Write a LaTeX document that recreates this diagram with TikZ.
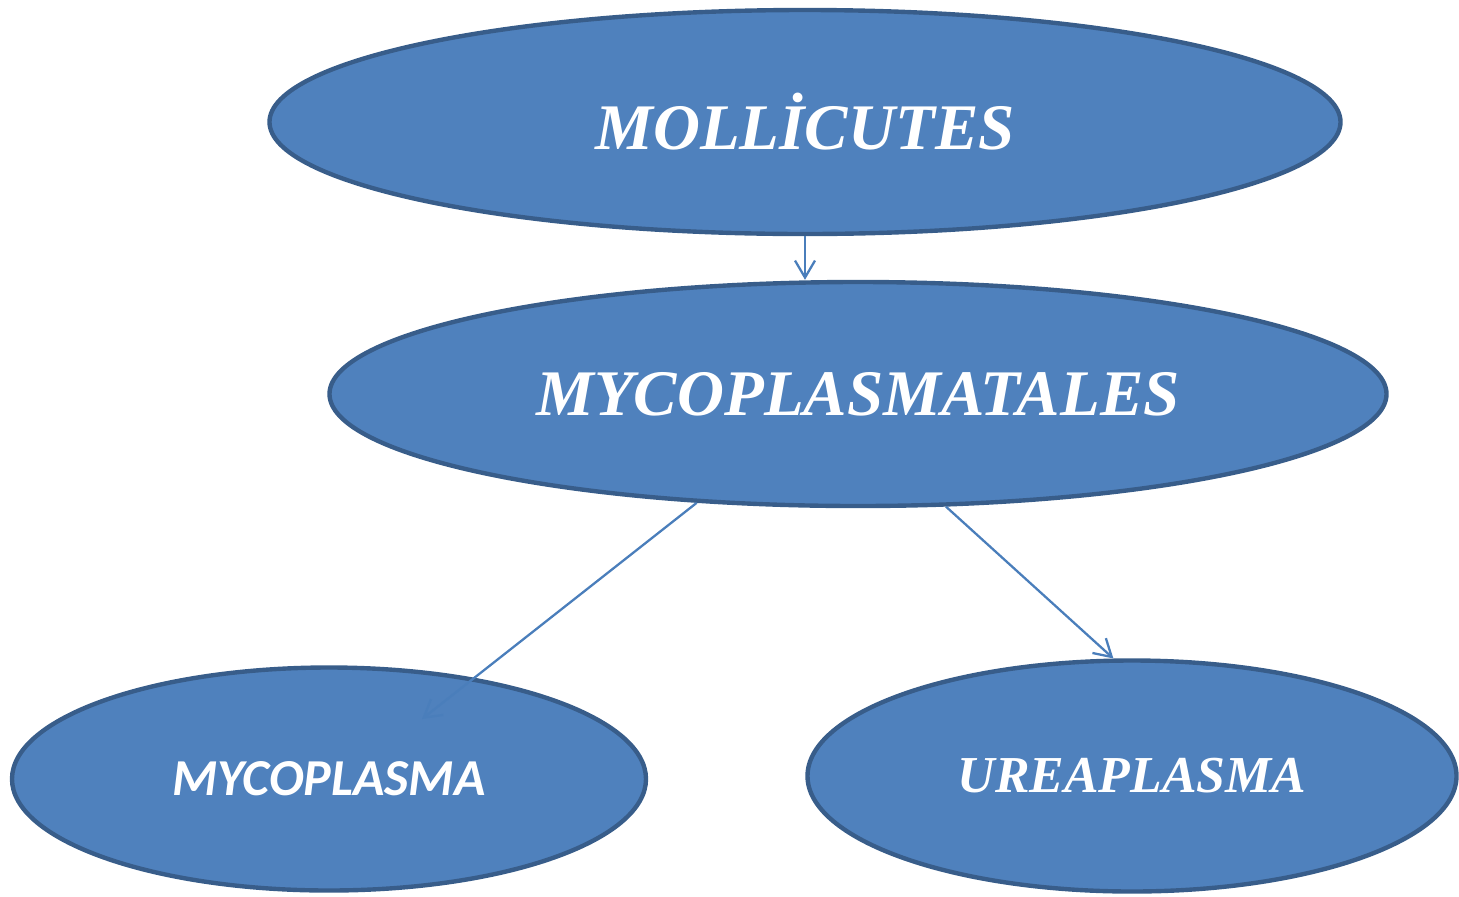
\documentclass[tikz,border=0pt]{standalone}
\usepackage{fontspec}
\setmainfont{Liberation Serif}
\newfontfamily\calibrifont{Carlito}
\usetikzlibrary{shapes.geometric,arrows.meta}
\definecolor{fillblue}{HTML}{4F81BD}
\definecolor{edgeblue}{HTML}{385D8A}
\definecolor{arrowblue}{HTML}{4A7EBB}

\begin{document}
\begin{tikzpicture}[
    taxon/.style={ellipse, draw=edgeblue, fill=fillblue, line width=2.5pt, text=white, inner sep=0pt},
    link/.style={draw=arrowblue, line width=1.3pt, -{Straight Barb[length=3.4mm, width=4mm]}}]
    \useasboundingbox (0, 0) rectangle (29.18, -17.92);

    % ノード
    \node[taxon, minimum width=21.42cm, minimum height=4.48cm, font=\fontsize{37}{40}\selectfont\bfseries\itshape] (moll) at (16.1, -2.44) {MOLLİCUTES};
    \node[taxon, minimum width=21.14cm, minimum height=4.48cm, font=\fontsize{37}{40}\selectfont\bfseries\itshape] (order) at (17.16, -7.88) {MYCOPLASMATALES};
    \node[taxon, minimum width=12.68cm, minimum height=4.46cm, font=\fontsize{29.5}{32}\calibrifont\bfseries\itshape] (myco) at (6.58, -15.58) {MYCOPLASMA};
    \node[taxon, minimum width=12.98cm, minimum height=4.62cm, font=\fontsize{29.5}{34}\selectfont\bfseries\itshape] (ureap) at (22.64, -15.52) {UREAPLASMA};
    \coordinate (mycotip) at (8.44, -14.38);

    % 矢印
    \draw[link] (moll.south) -- (moll.south |- order.north);
    \draw[link] (order.214) -- (mycotip);
    \draw[link] (order.308) -- (ureap.99);

\end{tikzpicture}
\end{document}
